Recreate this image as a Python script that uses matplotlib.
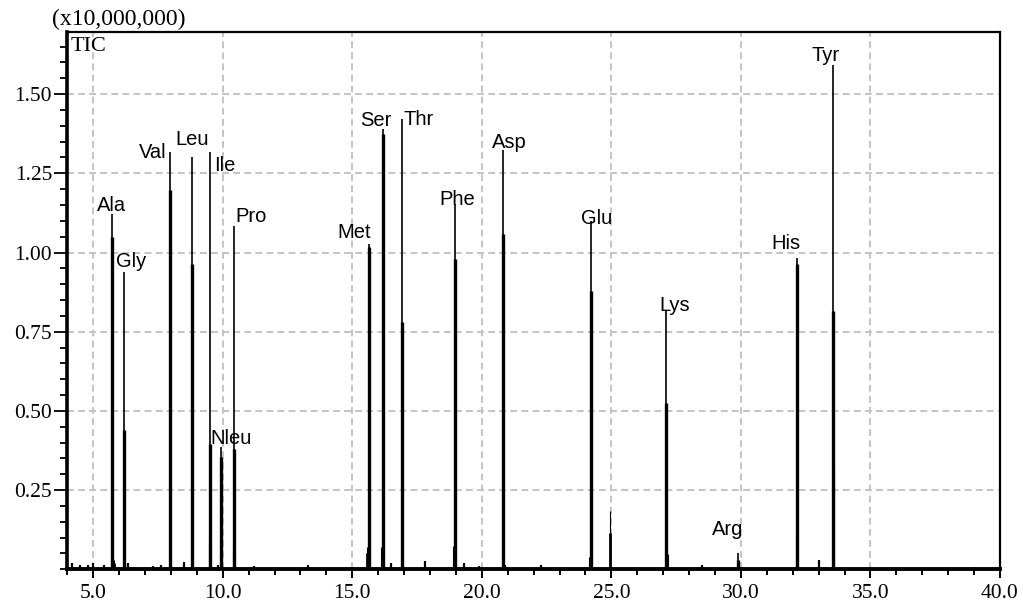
import matplotlib.pyplot as plt
from matplotlib.ticker import MultipleLocator, FormatStrFormatter

plt.rcParams['font.family'] = 'Liberation Sans'

# peaks (retention time in min, intensity x1e7)
peak_names = ['Ala', 'Gly', 'Val', 'Leu', 'Ile', 'Nleu', 'Pro', 'Met', 'Ser',
              'Thr', 'Phe', 'Asp', 'Glu', 'Lys', 'Arg', 'His', 'Tyr']
peak_rt = [5.71, 6.19, 7.97, 8.83, 9.51, 9.95, 10.44, 15.66, 16.18,
           16.92, 18.96, 20.83, 24.21, 27.12, 29.87, 32.17, 33.56]
peak_apex = [1.12, 0.94, 1.317, 1.30, 1.317, 0.386, 1.083, 1.028, 1.391,
             1.42, 1.152, 1.323, 1.10, 0.814, 0.050, 0.984, 1.593]
peak_body = [1.05, 0.44, 1.196, 0.965, 0.395, 0.355, 0.38, 1.017, 1.375,
             0.78, 0.98, 1.057, 0.88, 0.526, 0.03, 0.963, 0.816]

# narrow peak feet and unlabelled small peaks
foot_rt = [5.80, 9.45, 10.38, 15.58, 16.12, 18.90, 24.15, 24.96, 27.17, 32.12, 33.60]
foot_height = [0.03, 0.09, 0.065, 0.07, 0.07, 0.073, 0.04, 0.184, 0.047, 0.11, 0.327]
foot_body = [0.02, 0.0, 0.0, 0.05, 0.0, 0.0, 0.0, 0.115, 0.0, 0.0, 0.0]

# baseline noise blips
blip_rt = [4.2, 4.5, 4.8, 5.0, 5.4, 6.35, 7.3, 7.6, 8.5, 9.8, 11.2, 13.3,
           16.5, 17.8, 19.3, 19.9, 20.9, 22.3, 28.5, 33.0, 39.05]
blip_height = [0.02, 0.015, 0.012, 0.02, 0.015, 0.02, 0.01, 0.012, 0.024, 0.012,
               0.01, 0.015, 0.02, 0.025, 0.02, 0.01, 0.015, 0.015, 0.012, 0.03, 0.008]

# label placement relative to apex: (ha, dx px, dy px to baseline)
label_layout = {
    'Ala': ('center', 0, 3), 'Gly': ('left', -8, 5), 'Val': ('right', -4, -6),
    'Leu': ('center', 0, 12), 'Ile': ('left', 4, -19), 'Nleu': ('left', -11, 3),
    'Pro': ('left', 1, 4), 'Met': ('right', 2, 6), 'Ser': ('center', -7, 3),
    'Thr': ('left', 1, -6), 'Phe': ('center', 2, -1), 'Asp': ('center', 6, 2),
    'Glu': ('center', 6, -3), 'Lys': ('left', -7, 0), 'Arg': ('center', -10, 18),
    'His': ('center', -11, 9), 'Tyr': ('center', -8, 4),
}

W, H = 1023, 606
fig = plt.figure(figsize=(W / 100, H / 100), dpi=100)
left, right, top, bottom = 67.3, 1000, 31.7, 569.3
ax = fig.add_axes([left / W, 1 - bottom / H, (right - left) / W, (bottom - top) / H])

# grid
ax.set_axisbelow(True)
ax.grid(True, which='major', color='#c4c4c4', linewidth=1.4, linestyle=(0, (3.5, 2.2)))

# peaks: thin apex line plus thicker body
ax.vlines(peak_rt, 0, peak_apex, color='black', linewidth=1.2, zorder=3)
ax.vlines(peak_rt, 0, peak_body, color='black', linewidth=2.4, zorder=3)
ax.vlines(foot_rt, 0, foot_height, color='black', linewidth=0.8, zorder=3)
ax.vlines(foot_rt, 0, foot_body, color='black', linewidth=2.0, zorder=3)
ax.vlines(blip_rt, 0, blip_height, color='black', linewidth=1.6, zorder=3)

for name, rt, h in zip(peak_names, peak_rt, peak_apex):
    ha, dx, dy = label_layout[name]
    ax.annotate(name, xy=(rt, h), xytext=(dx, dy), textcoords='offset pixels',
                ha=ha, va='baseline', fontsize=14.5, color='black', zorder=4)

# axes
ax.set_xlim(4.0, 40.0)
ax.set_ylim(0, 1.697)
ax.xaxis.set_major_locator(MultipleLocator(5))
ax.xaxis.set_minor_locator(MultipleLocator(1))
ax.yaxis.set_major_locator(MultipleLocator(0.25))
ax.yaxis.set_minor_locator(MultipleLocator(0.05))
ax.xaxis.set_major_formatter(FormatStrFormatter('%.1f'))
ax.yaxis.set_major_formatter(FormatStrFormatter('%.2f'))
ax.set_yticks([0.25, 0.50, 0.75, 1.00, 1.25, 1.50])

ax.tick_params(axis='x', which='major', direction='out', length=6.5, width=1.4, pad=4)
ax.tick_params(axis='x', which='minor', direction='out', length=4.3, width=1.4)
ax.tick_params(axis='y', which='major', direction='out', length=9.4, width=1.3, pad=1.5)
ax.tick_params(axis='y', which='minor', direction='out', length=5.0, width=1.3)
for lab in ax.get_xticklabels() + ax.get_yticklabels():
    lab.set_family('Liberation Serif')
    lab.set_fontsize(15.5)

ax.spines['left'].set_linewidth(2.6)
ax.spines['bottom'].set_linewidth(2.8)
ax.spines['top'].set_linewidth(1.6)
ax.spines['right'].set_linewidth(1.6)
for s in ax.spines.values():
    s.set_zorder(5)

ax.text(0.003, 0.9647, 'TIC', transform=ax.transAxes, family='Liberation Serif',
        fontsize=16, ha='left', va='baseline')
fig.text(52 / W, 1 - 25 / H, '(x10,000,000)', family='Liberation Serif',
         fontsize=17, ha='left', va='baseline')

fig.savefig('out.png', dpi=100)
